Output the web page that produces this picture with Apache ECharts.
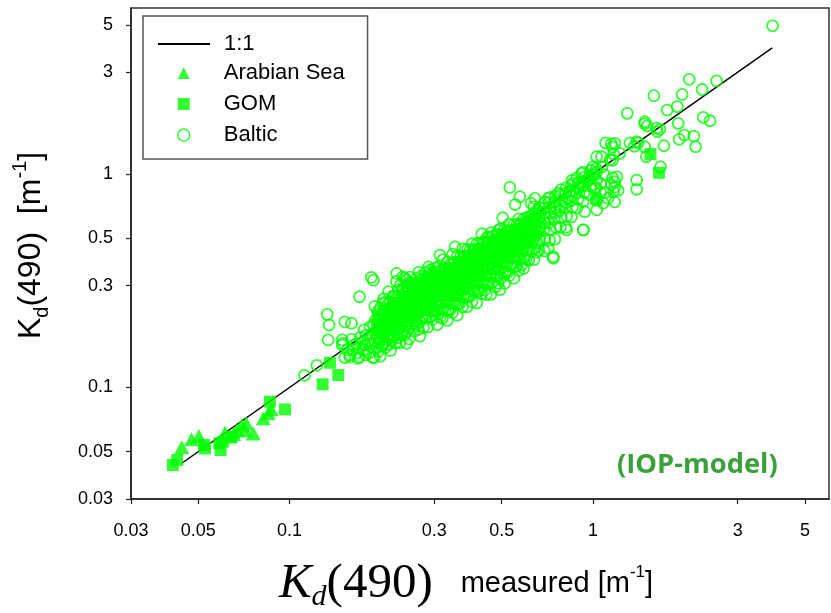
<!DOCTYPE html>
<html>
<head>
<meta charset="utf-8">
<script src="https://cdn.jsdelivr.net/npm/echarts@6/dist/echarts.min.js"></script>
<style>
html,body{margin:0;padding:0;background:#fff;}
#chart{width:831px;height:613px;}
</style>
</head>
<body>
<div id="chart"></div>
<script>
// ---- tick labels ----
const xTicks = [0.03, 0.05, 0.1, 0.3, 0.5, 1, 3, 5];
const yTicks = [0.03, 0.05, 0.1, 0.3, 0.5, 1, 3, 5];

// ---- 1:1 reference line ----
const oneToOne = [[0.044, 0.044], [3.9, 3.9]];

// ---- Arabian Sea (triangles) ----
const arabianSea = [
  [0.0441,0.0524],[0.0475,0.0571],[0.0502,0.0592],[0.0612,0.0614],[0.0636,0.0589],
  [0.0669,0.063],[0.0695,0.0667],[0.0713,0.063],[0.0759,0.0608],[0.0819,0.0717],
  [0.085,0.0757],[0.087,0.079],[0.0655,0.0605],[0.072,0.068]
];

// ---- GOM (squares) ----
const gom = [
  [0.0412,0.0433],[0.0426,0.0457],[0.0522,0.0537],[0.0526,0.0518],[0.0586,0.0547],
  [0.0592,0.0509],[0.0604,0.0557],[0.0644,0.0587],[0.0861,0.0857],[0.0966,0.0789],
  [0.1285,0.1034],[0.1447,0.1143],[0.1358,0.1305],[1.023,0.766],[1.547,1.241],[1.65,1.014]
];

// ---- Baltic (open circles) ----
const balticLow = [
  [0.112,0.114],[0.123,0.127],[0.134,0.167],[0.135,0.196],[0.133,0.22],[0.17,0.266],
  [0.186,0.328],[0.189,0.318],[0.152,0.203],[0.16,0.2],[0.149,0.167],[0.158,0.139],
  [0.168,0.137],[0.149,0.158],[0.2253,0.342],[0.236,0.33],[0.243,0.318],[0.246,0.308],
  [0.269,0.174],[0.243,0.161],[0.301,0.218],[0.313,0.417],[0.351,0.456]
];
const balticA = [
  [0.152,0.138],[0.155,0.150],[0.150,0.161],
  [0.158,0.142],[0.162,0.150],[0.160,0.168],[0.163,0.158],
  [0.167,0.145],[0.170,0.139],[0.166,0.160],[0.171,0.172],[0.169,0.153],
  [0.175,0.150],[0.178,0.142],[0.174,0.163],[0.179,0.176],[0.177,0.158],[0.176,0.186],
  [0.183,0.145],[0.186,0.155],[0.182,0.166],[0.187,0.178],[0.185,0.160],[0.184,0.192],[0.188,0.138]
];
const balticB = [
  [0.190,0.138],[0.194,0.154],[0.191,0.165],[0.193,0.177],[0.195,0.186],[0.189,0.196],[0.192,0.207],[0.196,0.221],[0.191,0.240],
  [0.199,0.140],[0.202,0.156],[0.198,0.168],[0.201,0.178],[0.203,0.188],[0.200,0.198],[0.197,0.208],[0.202,0.220],[0.199,0.236],[0.204,0.260],
  [0.207,0.154],[0.210,0.168],[0.206,0.181],[0.209,0.189],[0.211,0.200],[0.208,0.208],[0.205,0.220],[0.210,0.233],[0.207,0.250],[0.212,0.281],
  [0.215,0.149],[0.218,0.166],[0.214,0.179],[0.217,0.190],[0.219,0.201],[0.216,0.212],[0.213,0.222],[0.218,0.235],[0.215,0.251],[0.220,0.268],
  [0.223,0.161],[0.226,0.177],[0.222,0.190],[0.225,0.202],[0.227,0.213],[0.224,0.224],[0.221,0.235],[0.226,0.249],[0.223,0.267],[0.228,0.287],[0.225,0.314],
  [0.231,0.162],[0.234,0.176],[0.230,0.190],[0.233,0.202],[0.235,0.213],[0.232,0.225],[0.229,0.237],[0.234,0.248],[0.231,0.262],[0.236,0.281],[0.232,0.302],
  [0.239,0.175],[0.242,0.192],[0.238,0.204],[0.241,0.216],[0.243,0.226],[0.240,0.238],[0.237,0.250],[0.242,0.262],[0.239,0.276],[0.244,0.298],[0.240,0.326],
  [0.248,0.169],[0.251,0.192],[0.247,0.207],[0.250,0.219],[0.252,0.232],[0.249,0.244],[0.246,0.256],[0.251,0.269],[0.248,0.284],[0.253,0.304],[0.249,0.329],
  [0.257,0.183],[0.260,0.204],[0.256,0.217],[0.259,0.230],[0.261,0.243],[0.258,0.255],[0.255,0.268],[0.260,0.284],[0.257,0.302],[0.262,0.325],
  [0.266,0.187],[0.269,0.203],[0.265,0.219],[0.268,0.232],[0.270,0.246],[0.267,0.256],[0.264,0.270],[0.269,0.283],[0.266,0.299],[0.271,0.320],[0.267,0.347],
  [0.276,0.191],[0.279,0.216],[0.275,0.233],[0.278,0.247],[0.280,0.258],[0.277,0.271],[0.274,0.285],[0.279,0.302],[0.276,0.321],[0.281,0.346],
  [0.286,0.192],[0.289,0.215],[0.285,0.232],[0.288,0.247],[0.290,0.261],[0.287,0.276],[0.284,0.287],[0.289,0.301],[0.286,0.319],[0.291,0.342],[0.287,0.367],
  [0.296,0.208],[0.299,0.229],[0.295,0.247],[0.298,0.261],[0.300,0.273],[0.297,0.288],[0.294,0.303],[0.299,0.318],[0.296,0.339],[0.301,0.362]
];
const balticB2 = [
  [0.196,0.147],[0.197,0.161],[0.195,0.172],[0.198,0.182],[0.194,0.190],[0.197,0.198],[0.195,0.206],[0.198,0.216],[0.195,0.227],
  [0.204,0.159],[0.205,0.173],[0.203,0.184],[0.206,0.194],[0.202,0.202],[0.205,0.210],[0.203,0.220],[0.206,0.231],[0.203,0.249],
  [0.212,0.159],[0.213,0.174],[0.211,0.187],[0.214,0.197],[0.210,0.206],[0.213,0.214],[0.211,0.223],[0.214,0.233],[0.211,0.246],
  [0.220,0.172],[0.221,0.187],[0.219,0.198],[0.222,0.209],[0.218,0.218],[0.221,0.227],[0.219,0.238],[0.222,0.249],[0.219,0.268],
  [0.228,0.171],[0.229,0.187],[0.227,0.201],[0.230,0.212],[0.226,0.221],[0.229,0.230],[0.227,0.239],[0.230,0.251],[0.227,0.264],
  [0.236,0.184],[0.237,0.201],[0.235,0.212],[0.238,0.224],[0.234,0.234],[0.237,0.243],[0.235,0.255],[0.238,0.267],[0.235,0.288],
  [0.244,0.183],[0.245,0.200],[0.243,0.215],[0.246,0.227],[0.242,0.237],[0.245,0.246],[0.243,0.256],[0.246,0.268],[0.243,0.283],
  [0.253,0.197],[0.254,0.215],[0.252,0.228],[0.255,0.240],[0.251,0.250],[0.254,0.261],[0.252,0.273],[0.255,0.286],[0.252,0.309],
  [0.262,0.197],[0.263,0.215],[0.261,0.231],[0.264,0.244],[0.260,0.254],[0.263,0.265],[0.261,0.275],[0.264,0.288],[0.261,0.304],
  [0.272,0.212],[0.273,0.231],[0.271,0.245],[0.274,0.258],[0.270,0.269],[0.273,0.280],[0.271,0.294],[0.274,0.307],[0.271,0.332],
  [0.282,0.212],[0.283,0.231],[0.281,0.248],[0.284,0.262],[0.280,0.274],[0.283,0.285],[0.281,0.296],[0.284,0.310],[0.281,0.327],
  [0.292,0.228],[0.293,0.248],[0.291,0.263],[0.294,0.277],[0.290,0.289],[0.293,0.301],[0.291,0.315],[0.294,0.330],[0.291,0.356],
  [0.302,0.227],[0.303,0.248],[0.301,0.266],[0.304,0.281],[0.300,0.293],[0.303,0.305],[0.301,0.317],[0.304,0.332],[0.301,0.350]
];
const balticC = [
  [0.307,0.197],[0.310,0.222],[0.306,0.240],[0.309,0.256],[0.311,0.271],[0.308,0.283],[0.305,0.296],[0.310,0.308],[0.307,0.323],[0.312,0.342],[0.308,0.367],
  [0.319,0.211],[0.322,0.234],[0.318,0.253],[0.321,0.269],[0.323,0.285],[0.320,0.298],[0.317,0.310],[0.322,0.326],[0.319,0.342],[0.324,0.365],[0.320,0.397],
  [0.331,0.206],[0.334,0.232],[0.330,0.252],[0.333,0.269],[0.335,0.286],[0.332,0.299],[0.329,0.312],[0.334,0.325],[0.331,0.342],[0.336,0.362],[0.332,0.388],
  [0.344,0.224],[0.347,0.248],[0.343,0.269],[0.346,0.286],[0.348,0.300],[0.345,0.314],[0.342,0.328],[0.347,0.345],[0.344,0.362],[0.349,0.386],[0.345,0.421],
  [0.357,0.218],[0.360,0.247],[0.356,0.269],[0.359,0.286],[0.361,0.304],[0.358,0.319],[0.355,0.333],[0.360,0.347],[0.357,0.365],[0.362,0.387],[0.358,0.415],
  [0.371,0.238],[0.374,0.264],[0.370,0.286],[0.373,0.305],[0.375,0.320],[0.372,0.335],[0.369,0.350],[0.374,0.368],[0.371,0.387],[0.376,0.409],[0.372,0.446],
  [0.385,0.239],[0.388,0.270],[0.384,0.293],[0.387,0.313],[0.389,0.328],[0.386,0.344],[0.383,0.359],[0.388,0.374],[0.385,0.394],[0.390,0.417],[0.386,0.444],
  [0.399,0.252],[0.403,0.284],[0.398,0.308],[0.401,0.328],[0.404,0.344],[0.400,0.360],[0.396,0.376],[0.402,0.392],[0.399,0.412],[0.405,0.436],[0.400,0.472],
  [0.414,0.249],[0.418,0.282],[0.413,0.307],[0.416,0.328],[0.419,0.349],[0.415,0.365],[0.411,0.382],[0.417,0.398],[0.414,0.419],[0.420,0.444],[0.415,0.473],
  [0.429,0.275],[0.433,0.310],[0.428,0.335],[0.431,0.357],[0.434,0.374],[0.430,0.391],[0.426,0.409],[0.432,0.426],[0.429,0.452],[0.435,0.482],[0.430,0.525],
  [0.445,0.272],[0.449,0.308],[0.444,0.335],[0.447,0.357],[0.450,0.375],[0.446,0.392],[0.442,0.410],[0.448,0.428],[0.445,0.450],[0.451,0.473],[0.446,0.504],
  [0.461,0.273],[0.465,0.310],[0.460,0.337],[0.463,0.360],[0.466,0.383],[0.462,0.402],[0.458,0.420],[0.464,0.439],[0.461,0.462],[0.467,0.490],[0.462,0.531],
  [0.477,0.296],[0.481,0.335],[0.476,0.363],[0.479,0.387],[0.482,0.406],[0.478,0.425],[0.474,0.445],[0.480,0.464],[0.477,0.488],[0.483,0.521],
  [0.494,0.287],[0.498,0.327],[0.493,0.356],[0.496,0.381],[0.499,0.406],[0.495,0.426],[0.491,0.446],[0.497,0.465],[0.494,0.490],[0.500,0.520],[0.495,0.554]
];
const balticC2 = [
  [0.314,0.214],[0.316,0.232],[0.312,0.251],[0.317,0.267],[0.311,0.279],[0.315,0.292],[0.313,0.305],[0.316,0.317],[0.312,0.333],[0.315,0.352],
  [0.326,0.228],[0.328,0.251],[0.324,0.271],[0.329,0.284],[0.323,0.297],[0.327,0.310],[0.325,0.323],[0.328,0.336],[0.324,0.355],
  [0.338,0.230],[0.340,0.250],[0.336,0.270],[0.341,0.287],[0.335,0.301],[0.339,0.314],[0.337,0.328],[0.340,0.341],[0.336,0.358],[0.339,0.379],
  [0.351,0.246],[0.353,0.270],[0.349,0.291],[0.354,0.305],[0.348,0.319],[0.352,0.333],[0.350,0.347],[0.353,0.362],[0.349,0.383],
  [0.365,0.248],[0.367,0.270],[0.363,0.292],[0.368,0.310],[0.362,0.325],[0.366,0.339],[0.364,0.354],[0.367,0.369],[0.363,0.387],[0.366,0.409],
  [0.379,0.265],[0.381,0.292],[0.377,0.315],[0.382,0.330],[0.376,0.345],[0.380,0.360],[0.378,0.375],[0.381,0.390],[0.377,0.413],
  [0.393,0.267],[0.395,0.291],[0.391,0.314],[0.396,0.334],[0.390,0.350],[0.394,0.365],[0.392,0.381],[0.395,0.397],[0.391,0.417],[0.394,0.440],
  [0.407,0.285],[0.409,0.313],[0.405,0.338],[0.410,0.354],[0.404,0.370],[0.408,0.387],[0.406,0.403],[0.409,0.419],[0.405,0.444],
  [0.422,0.287],[0.424,0.312],[0.420,0.338],[0.425,0.359],[0.419,0.376],[0.423,0.392],[0.421,0.409],[0.424,0.426],[0.420,0.447],[0.423,0.473],
  [0.438,0.307],[0.440,0.337],[0.436,0.364],[0.441,0.381],[0.435,0.399],[0.439,0.416],[0.437,0.434],[0.440,0.451],[0.436,0.477],
  [0.454,0.309],[0.456,0.336],[0.452,0.363],[0.457,0.386],[0.451,0.404],[0.455,0.422],[0.453,0.440],[0.456,0.459],[0.452,0.481],[0.455,0.508],
  [0.470,0.329],[0.472,0.362],[0.468,0.390],[0.473,0.409],[0.467,0.428],[0.471,0.447],[0.469,0.465],[0.472,0.484],[0.468,0.512],
  [0.486,0.330],[0.488,0.360],[0.484,0.389],[0.489,0.413],[0.483,0.433],[0.487,0.452],[0.485,0.471],[0.488,0.491],[0.484,0.515],[0.487,0.544]
];
const balticD = [
  [0.511,0.307],[0.515,0.348],[0.509,0.384],[0.513,0.410],[0.516,0.435],[0.512,0.461],[0.508,0.486],[0.514,0.512],[0.511,0.548],
  [0.529,0.334],[0.533,0.371],[0.527,0.403],[0.531,0.429],[0.534,0.456],[0.530,0.482],[0.526,0.509],[0.532,0.541],[0.529,0.583],
  [0.549,0.325],[0.553,0.369],[0.547,0.407],[0.551,0.435],[0.554,0.462],[0.550,0.484],[0.546,0.512],[0.552,0.539],[0.549,0.578],
  [0.569,0.353],[0.573,0.399],[0.567,0.433],[0.571,0.462],[0.574,0.490],[0.570,0.519],[0.566,0.547],[0.572,0.576],[0.569,0.616],
  [0.591,0.361],[0.595,0.408],[0.589,0.444],[0.593,0.474],[0.596,0.503],[0.592,0.527],[0.588,0.556],[0.594,0.586],[0.591,0.616],
  [0.614,0.394],[0.618,0.443],[0.612,0.480],[0.616,0.510],[0.619,0.535],[0.615,0.566],[0.611,0.597],[0.617,0.633],
  [0.639,0.397],[0.643,0.448],[0.636,0.493],[0.641,0.525],[0.645,0.550],[0.640,0.582],[0.635,0.614],[0.642,0.653],[0.639,0.704],
  [0.664,0.439],[0.668,0.492],[0.661,0.532],[0.666,0.559],[0.670,0.592],[0.665,0.625],[0.660,0.658],[0.667,0.698],
  [0.691,0.436],[0.695,0.498],[0.688,0.547],[0.693,0.588],[0.697,0.623],[0.692,0.657],[0.687,0.692],[0.694,0.740],
  [0.719,0.490],[0.724,0.547],[0.716,0.590],[0.721,0.626],[0.725,0.662],[0.720,0.698],[0.715,0.734],[0.722,0.778]
];
const balticD2 = [
  [0.503,0.347],[0.506,0.382],[0.500,0.407],[0.505,0.433],[0.501,0.458],[0.504,0.483],[0.502,0.508],
  [0.520,0.343],[0.523,0.380],[0.517,0.411],[0.522,0.437],[0.518,0.458],[0.521,0.484],[0.519,0.510],[0.522,0.541],
  [0.540,0.373],[0.543,0.410],[0.537,0.437],[0.542,0.464],[0.538,0.491],[0.541,0.518],[0.539,0.545],
  [0.560,0.370],[0.563,0.409],[0.557,0.442],[0.562,0.470],[0.558,0.493],[0.561,0.521],[0.559,0.549],[0.562,0.582],
  [0.580,0.400],[0.583,0.441],[0.577,0.470],[0.582,0.499],[0.578,0.528],[0.581,0.557],[0.579,0.586],
  [0.603,0.398],[0.606,0.440],[0.600,0.476],[0.605,0.507],[0.601,0.531],[0.604,0.561],[0.602,0.591],[0.605,0.627],
  [0.627,0.433],[0.630,0.477],[0.624,0.508],[0.629,0.539],[0.625,0.571],[0.628,0.602],[0.626,0.633],
  [0.652,0.430],[0.655,0.476],[0.649,0.515],[0.654,0.548],[0.650,0.574],[0.653,0.606],[0.651,0.639],[0.654,0.678]
];
const balticE = [
  [0.749,0.495],[0.754,0.563],[0.745,0.615],[0.751,0.660],[0.756,0.698],[0.748,0.743],[0.752,0.788],
  [0.781,0.563],[0.786,0.626],[0.777,0.673],[0.783,0.712],[0.788,0.751],[0.780,0.798],[0.784,0.845],
  [0.814,0.562],[0.819,0.636],[0.810,0.693],[0.816,0.734],[0.821,0.774],[0.813,0.815],[0.817,0.864],
  [0.849,0.629],[0.855,0.697],[0.845,0.748],[0.851,0.791],[0.857,0.833],[0.848,0.884],[0.853,0.935],
  [0.887,0.693],[0.893,0.764],[0.882,0.817],[0.889,0.861],[0.895,0.906],[0.886,0.959],
  [0.929,0.744],[0.935,0.818],[0.923,0.874],[0.931,0.921],[0.937,0.967],[0.928,1.02],
  [0.974,0.800],[0.981,0.878],[0.968,0.936],[0.977,0.985],[0.983,1.04],
  [1.02,0.857],[1.03,0.938],[1.01,1.00],[1.025,1.06]
];
const balticMidOutliers = [
  [0.532,0.866],[0.504,0.624],[0.574,0.783],[0.554,0.72],[0.644,0.769],[0.625,0.73],
  [0.712,0.769],[0.768,0.812],[0.74,0.403],[0.712,0.449],[0.929,0.547],[0.94,0.666],
  [0.819,0.547],[0.582,0.375],[0.44,0.286],[0.487,0.308],[0.74,0.41]
];
const balticHigh = [
  [3.91,4.95],[2.076,2.78],[2.556,2.73],[2.29,2.49],[1.968,2.36],[1.588,2.33],[1.297,1.925],
  [1.757,1.995],[1.896,2.07],[1.483,1.758],[1.51,1.679],[1.663,1.62],[1.63,1.58],[1.91,1.728],
  [2.31,1.845],[2.43,1.777],[2.15,1.507],[2.18,1.343],[1.924,1.455],[2.0,1.523],[1.713,1.357],
  [1.393,1.417],[1.181,1.393],[1.15,1.385],[1.48,1.343],[1.50,1.205],[1.67,1.082],[1.393,0.937],
  [1.393,0.848],[1.18,0.92],[1.2,0.97],[1.17,0.825],[1.17,1.24],[1.028,1.205],[1.067,1.205],
  [1.0,1.082],[1.48,1.72],[1.62,1.64],[1.41,1.40],[1.37,1.35],[1.324,1.40],[1.227,1.25],
  [1.16,1.34],[1.10,1.40],[1.14,1.17],[1.16,1.16],[1.07,1.08],[1.09,0.995],[1.06,0.9],
  [1.1,0.82],[1.18,0.87],[1.16,0.96],[1.02,0.87],[1.06,0.82],[1.15,0.89],[1.21,0.84],
  [1.12,0.77],[1.18,0.74],[1.03,0.68],[1.03,0.75],[0.93,0.547],[1.08,0.73],[0.918,1.008],
  [0.93,0.888],[0.895,0.87],[0.86,0.905],[0.84,0.83],[1.028,1.025],[0.998,0.995],[0.966,0.955]
];
const baltic = [].concat(balticLow, balticA, balticB, balticB2, balticC, balticC2,
  balticD, balticD2, balticE, balticMidOutliers, balticHigh);

const GREEN = '#00ff00';
const SANS = 'Liberation Sans, Arial, sans-serif';
const SERIF = 'Liberation Serif, Times New Roman, serif';
const fmt = v => String(Math.round(v * 1000) / 1000);
const legendText = { fontSize: 22, fontFamily: SANS, color: '#000', lineHeight: 20 };

const chart = echarts.init(document.getElementById('chart'));
chart.setOption({
  animation: false,
  backgroundColor: '#fff',
  grid: { left: 131, right: 2, top: 8, bottom: 114, show: true, borderColor: '#333', borderWidth: 1.5,
          outerBoundsMode: 'none', containLabel: false },
  legend: [
    {
      orient: 'vertical', left: 143, top: 16,
      borderColor: '#555', borderWidth: 1.5, padding: [17, 113, 104, 14],
      itemWidth: 52, itemHeight: 12,
      textStyle: Object.assign({ padding: [0, 0, 0, 9] }, legendText),
      data: [{ name: '1:1', itemStyle: { color: 'rgba(0,0,0,0)', opacity: 0 } }]
    },
    {
      orient: 'vertical', left: 177, top: 62, padding: 0,
      itemWidth: 12, itemHeight: 12, itemGap: 9,
      textStyle: Object.assign({ padding: [0, 0, 0, 29] }, legendText),
      data: [
        { name: 'Arabian Sea', icon: 'triangle' },
        { name: 'GOM', icon: 'rect' },
        { name: 'Baltic', icon: 'circle', itemStyle: { color: 'rgba(0,0,0,0)', borderColor: GREEN, borderWidth: 1.5 } }
      ]
    }
  ],
  xAxis: {
    type: 'log', logBase: 10, min: 0.03, max: 6,
    name: '{k|K}{s|d}{t|(490)}{g| }{m|measured [m}{p|-1}{m|]}',
    nameLocation: 'middle', nameGap: 53,
    nameTextStyle: {
      color: '#000', padding: [0, 28, 0, 0],
      rich: {
        k: { fontFamily: SERIF, fontStyle: 'italic', fontSize: 49, lineHeight: 64, color: '#000' },
        s: { fontFamily: SERIF, fontStyle: 'italic', fontSize: 30, verticalAlign: 'middle', padding: [26, 0, 0, 0], color: '#000' },
        t: { fontFamily: SERIF, fontSize: 49, lineHeight: 64, color: '#000' },
        g: { fontFamily: SANS, fontSize: 28, width: 28 },
        m: { fontFamily: SANS, fontSize: 29, color: '#000' },
        p: { fontFamily: SANS, fontSize: 17, verticalAlign: 'middle', padding: [0, 0, 24, 0], color: '#000' }
      }
    },
    axisLine: { show: true, lineStyle: { color: '#222', width: 1.5 } },
    axisTick: { show: true, inside: false, length: 5, customValues: xTicks, lineStyle: { color: '#222', width: 1.2 } },
    axisLabel: { customValues: xTicks, formatter: fmt, fontSize: 18, fontFamily: SANS, color: '#000', margin: 23 },
    splitLine: { show: false }, minorTick: { show: false }
  },
  yAxis: {
    type: 'log', logBase: 10, min: 0.03, max: 6,
    name: '{k|K}{s|d}{k|(490)  [m}{p|-1}{k|]}',
    nameLocation: 'middle', nameGap: 79, nameRotate: 90,
    nameTextStyle: {
      color: '#000', padding: [0, 0, 0, 16],
      rich: {
        k: { fontFamily: SANS, fontSize: 32, lineHeight: 42, color: '#000' },
        s: { fontFamily: SANS, fontSize: 20, lineHeight: 20, verticalAlign: 'bottom', color: '#000' },
        p: { fontFamily: SANS, fontSize: 20, lineHeight: 20, verticalAlign: 'top', color: '#000' }
      }
    },
    axisLine: { show: true, lineStyle: { color: '#222', width: 1.5 } },
    axisTick: { show: true, inside: false, length: 5, customValues: yTicks, lineStyle: { color: '#222', width: 1.2 } },
    axisLabel: { customValues: yTicks, formatter: fmt, fontSize: 18, fontFamily: SANS, color: '#000', margin: 18 },
    splitLine: { show: false }, minorTick: { show: false }
  },
  graphic: [{
    type: 'text', left: 617, top: 453, z: 100, scaleX: 1.05,
    style: { text: '(IOP-model)', font: 'bold 26px "Open Sans", sans-serif', fill: '#3aa03a' }
  }],
  series: [
    { name: '1:1', type: 'line', data: oneToOne, symbol: 'none', z: 1,
      itemStyle: { color: 'rgba(0,0,0,0)' },
      lineStyle: { color: '#000', width: 1.5 } },
    { name: 'Baltic', type: 'scatter', data: baltic, symbol: 'circle', symbolSize: 11, z: 2,
      itemStyle: { color: 'rgba(0,0,0,0)', borderColor: GREEN, borderWidth: 1.8 } },
    { name: 'GOM', type: 'scatter', data: gom, symbol: 'rect', symbolSize: 12, z: 3,
      itemStyle: { color: GREEN } },
    { name: 'Arabian Sea', type: 'scatter', data: arabianSea, symbol: 'triangle', symbolSize: [15, 14], z: 3,
      itemStyle: { color: GREEN } }
  ]
});
</script>
</body>
</html>
